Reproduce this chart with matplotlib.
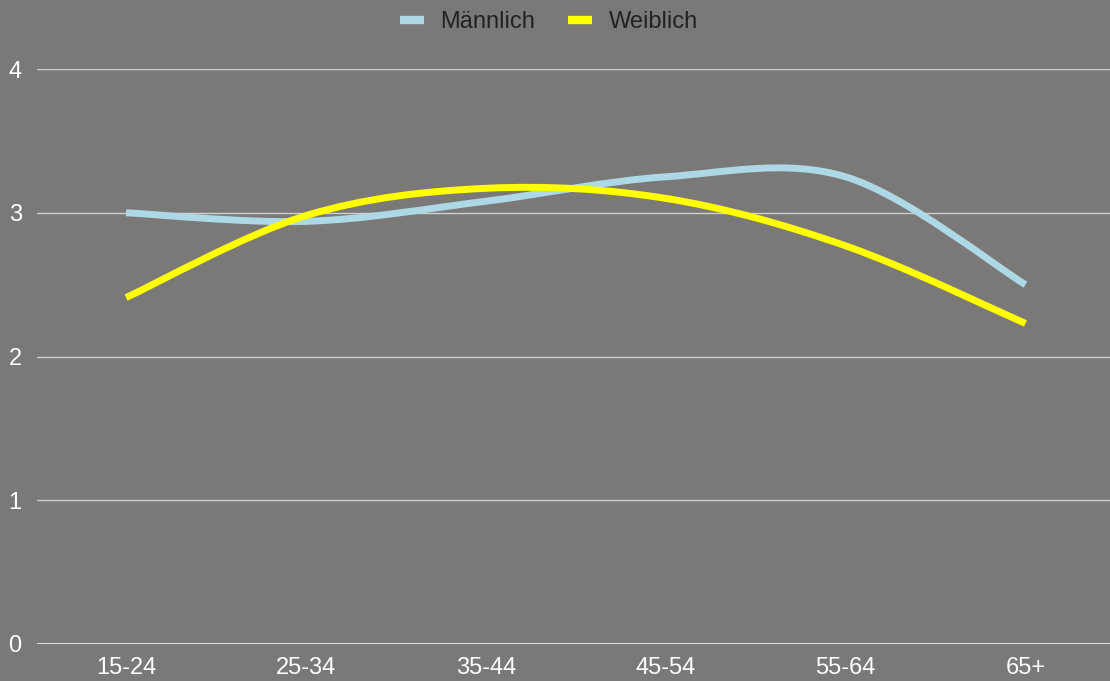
import matplotlib.pyplot as plt
import numpy as np
from matplotlib.lines import Line2D
from matplotlib.patches import PathPatch
from matplotlib.path import Path

plt.rcParams["font.family"] = ["Liberation Sans", "DejaVu Sans"]

CATEGORIES = ["15-24", "25-34", "35-44", "45-54", "55-64", "65+"]
MAENNLICH = [3.0, 2.94, 3.08, 3.25, 3.25, 2.5]
WEIBLICH = [2.41, 2.98, 3.17, 3.1, 2.77, 2.23]
Y_TICKS = [0, 1, 2, 3, 4]

BG = "#7b7977"
BLUE = "#add8e6"
YELLOW = "#ffff00"


def smooth_path(values: list[float]) -> Path:
    """Catmull-Rom style curve through the points, as cubic Bezier segments."""
    pts = np.column_stack([np.arange(len(values)), values]).astype(float)
    padded = np.vstack([pts[0], pts, pts[-1]])
    verts = [pts[0]]
    codes = [Path.MOVETO]
    for i in range(len(pts) - 1):
        p0, p1, p2, p3 = padded[i], padded[i + 1], padded[i + 2], padded[i + 3]
        c1 = p1 + (p2 - p0) / 6
        c2 = p2 - (p3 - p1) / 6
        verts += [c1, c2, p2]
        codes += [Path.CURVE4] * 3
    return Path(verts, codes)


fig = plt.figure(figsize=(11.10, 6.81), dpi=100, facecolor=BG)
ax = fig.add_axes([37 / 1110, 37 / 681, 1 - 37 / 1110, (644 - 69) / 681])
ax.set_facecolor(BG)

ax.set_xlim(-0.495, 5.47)
ax.set_ylim(0, 4)
for s in ax.spines.values():
    s.set_visible(False)

for y in Y_TICKS[1:]:
    ax.axhline(y, color="#cfcfcf", linewidth=1.0, zorder=1)
ax.axhline(0, color="white", linewidth=1.8, zorder=1)

for vals, col in [(MAENNLICH, BLUE), (WEIBLICH, YELLOW)]:
    patch = PathPatch(smooth_path(vals), facecolor="none", edgecolor=col,
                      linewidth=5.0, capstyle="butt", joinstyle="round", zorder=3)
    ax.add_patch(patch)

ax.set_xticks(range(len(CATEGORIES)))
ax.set_xticklabels(CATEGORIES)
ax.set_yticks(Y_TICKS)
ax.tick_params(axis="both", length=0, colors="white", labelsize=17)
ax.tick_params(axis="x", pad=9)
ax.tick_params(axis="y", pad=11)

handles = [Line2D([], [], color=BLUE, linewidth=6, solid_capstyle="butt"),
           Line2D([], [], color=YELLOW, linewidth=6, solid_capstyle="butt")]
fig.legend(handles, ["Männlich", "Weiblich"], loc="center",
           bbox_to_anchor=(549 / 1110, 1 - 22 / 681), ncol=2, frameon=False,
           fontsize=17, labelcolor="#222222", handlelength=1.02,
           handletextpad=0.68, columnspacing=1.4)

fig.savefig("out.png", dpi=100, facecolor=BG)
